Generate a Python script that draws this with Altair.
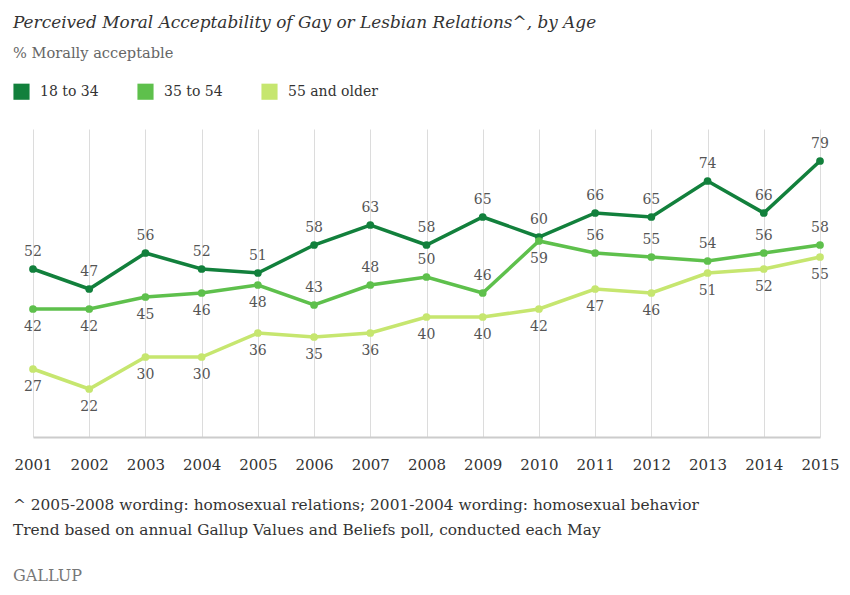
import altair as alt
import pandas as pd

years = list(range(2001, 2016))
age_groups = ["18 to 34", "35 to 54", "55 and older"]
v_18_34 = [52, 47, 56, 52, 51, 58, 63, 58, 65, 60, 66, 65, 74, 66, 79]
v_35_54 = [42, 42, 45, 46, 48, 43, 48, 50, 46, 59, 56, 55, 54, 56, 58]
v_55_up = [27, 22, 30, 30, 36, 35, 36, 40, 40, 42, 47, 46, 51, 52, 55]
label_side_18_34 = ["above"] * 15
label_side_35_54 = ["below"] * 5 + ["above"] * 4 + ["below"] + ["above"] * 5
label_side_55_up = ["below"] * 15
colors = ["#12803c", "#5ec04c", "#c6e66f"]

title_text = ["Perceived Moral Acceptability of Gay or Lesbian Relations^, by Age"]
subtitle_text = ["% Morally acceptable"]
footnote_1 = ["^ 2005-2008 wording: homosexual relations; 2001-2004 wording: homosexual behavior"]
footnote_2 = ["Trend based on annual Gallup Values and Beliefs poll, conducted each May"]
brand_text = ["GALLUP"]

SERIF = "DejaVu Serif"

rows = []
for grp, vals, sides in zip(age_groups, [v_18_34, v_35_54, v_55_up],
                            [label_side_18_34, label_side_35_54, label_side_55_up]):
    for y, v, s in zip(years, vals, sides):
        rows.append({"year": str(y), "group": grp, "value": v, "side": s})
df = pd.DataFrame(rows)

x_enc = alt.X("year:O", scale=alt.Scale(type="point", padding=0),
              axis=alt.Axis(title=None, grid=True, gridColor="#dcdcdc", gridWidth=1,
                            domainColor="#cccccc", domainWidth=2, ticks=False,
                            labelAngle=0, labelPadding=20, labelFont=SERIF,
                            labelFontSize=15, labelColor="#333333"))
y_enc = alt.Y("value:Q", scale=alt.Scale(domain=[10, 87], zero=False), axis=None)
color_scale = alt.Scale(domain=age_groups, range=colors)
legend = alt.Legend(orient="none", legendX=-20, legendY=-46,
                    direction="horizontal", title=None,
                    symbolType="square", symbolSize=260,
                    symbolStrokeWidth=0, symbolOpacity=1,
                    labelFont=SERIF, labelFontSize=14,
                    labelColor="#333333", labelOffset=10,
                    columnPadding=38, padding=0)
color_enc = alt.Color("group:N", scale=color_scale, legend=legend)

base = alt.Chart(df)

lines = base.mark_line(strokeWidth=3.5).encode(x=x_enc, y=y_enc, color=color_enc)
points = base.mark_point(filled=True, size=60, opacity=1).encode(
    x=x_enc, y=y_enc, color=color_enc)
labels_above = base.mark_text(font=SERIF, fontSize=14, color="#555555", dy=-17).encode(
    x=x_enc, y=y_enc, text="value:Q"
).transform_filter(alt.datum.side == "above")
labels_below = base.mark_text(font=SERIF, fontSize=14, color="#555555", dy=18).encode(
    x=x_enc, y=y_enc, text="value:Q"
).transform_filter(alt.datum.side == "below")


def note(texts, x, y, size, color, italic=False):
    return alt.Chart(pd.DataFrame({"t": texts})).mark_text(
        align="left", baseline="alphabetic", font=SERIF, fontSize=size,
        color=color, fontStyle="italic" if italic else "normal"
    ).encode(x=alt.value(x), y=alt.value(y), text="t:N")


title = note(title_text, -20, -101, 16.9, "#333333", italic=True)
subtitle = note(subtitle_text, -20, -71, 14.6, "#666666")
foot1 = note(footnote_1, -20, 381, 15.4, "#333333")
foot2 = note(footnote_2, -20, 406, 15.4, "#333333")
brand = note(brand_text, -20, 452, 16, "#777777")

chart = alt.layer(lines, points, labels_above, labels_below,
                  title, subtitle, foot1, foot2, brand).properties(
    width=787, height=308,
    autosize=alt.AutoSizeParams(type="none"),
    padding={"left": 25, "top": 121, "right": 22, "bottom": 150},
).configure_view(stroke=None)

chart.save("out.html", embed_options={"renderer": "svg", "actions": False})
